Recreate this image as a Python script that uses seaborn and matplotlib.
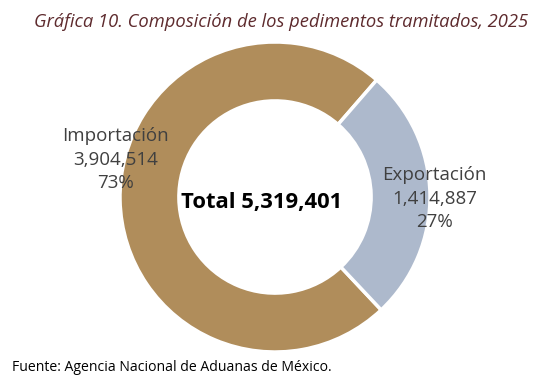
import seaborn as sns
import matplotlib.pyplot as plt

# Datos
categorias = ["Importación", "Exportación"]
valores = [3904514, 1414887]
colores = ["#B08D5B", "#ADB9CC"]

total = sum(valores)

sns.set_theme(style="white")
plt.rcParams['font.family'] = ['Open Sans', 'DejaVu Sans']

fig = plt.figure(figsize=(5.41, 3.89), dpi=100)
ax = fig.add_axes([120 / 541, 37 / 389, 310 / 541, 310 / 389])

ax.pie(valores, colors=colores, startangle=49, radius=1,
       wedgeprops=dict(width=0.38, edgecolor="white", linewidth=2.5))
ax.set_xlim(-1, 1)
ax.set_ylim(-1, 1)
ax.set_aspect("equal")
ax.axis("off")

# Etiquetas
posiciones = [(-1.03, 0.24), (1.03, -0.01)]
for cat, val, (x, y) in zip(categorias, valores, posiciones):
    pct = round(val / total * 100)
    ax.text(x, y, f"{cat}\n{val:,}\n{pct}%", ha="center", va="center",
            fontsize=13.5, color="#404040", linespacing=1.4, clip_on=False)

ax.text(-0.085, -0.035, f"Total {total:,}", ha="center", va="center",
        fontsize=15.8, fontweight="bold", color="black")

fig.text(0.52, 0.943, "Gráfica 10. Composición de los pedimentos tramitados, 2025",
         ha="center", va="center", fontsize=13.2, style="italic", color="#5E2B2E")
fig.text(12 / 541, 0.054, "Fuente: Agencia Nacional de Aduanas de México.",
         ha="left", va="center", fontsize=10.1, color="black")

fig.savefig("out.png", dpi=100)
